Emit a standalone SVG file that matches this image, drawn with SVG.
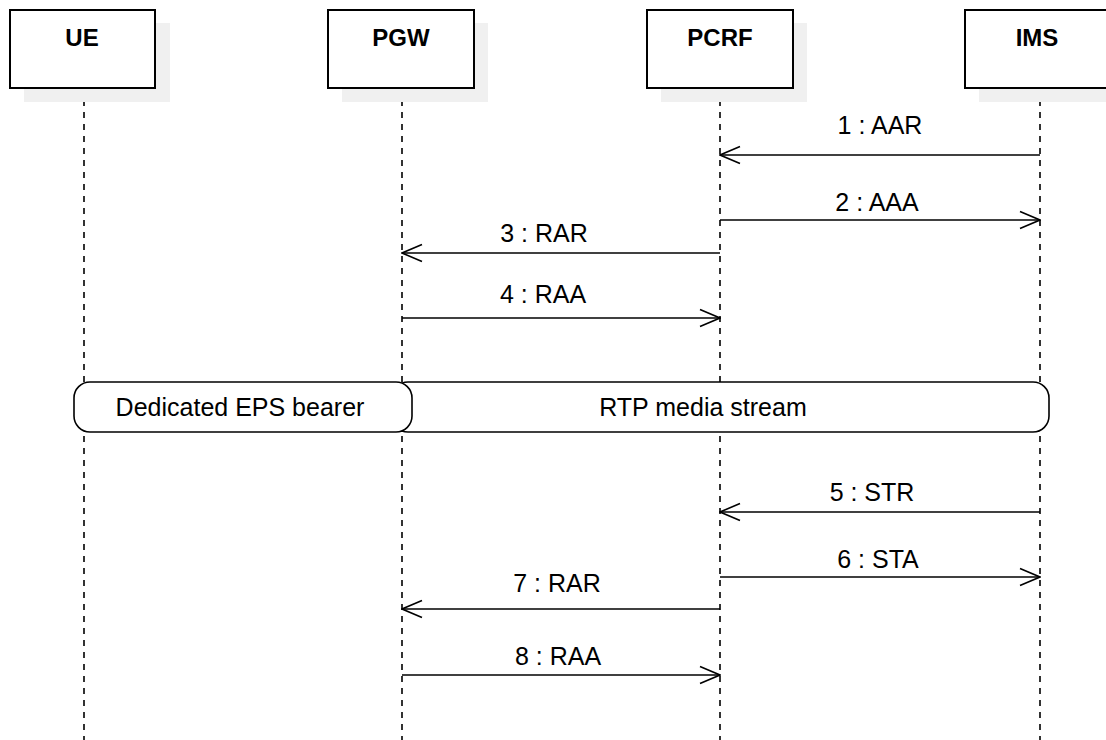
<svg xmlns="http://www.w3.org/2000/svg" width="1106" height="740" viewBox="0 0 1106 740">
  <defs>
    <marker id="open-arrow" viewBox="0 0 22 20" refX="21" refY="10" markerWidth="22" markerHeight="20" markerUnits="userSpaceOnUse" orient="auto">
      <path d="M1 1.5 L21 10 L1 18.5" fill="none" stroke="#000" stroke-width="1.6"/>
    </marker>
  </defs>
  <style>
    .shadow { fill: #f0f0f0; }
    .actor { fill: #fff; stroke: #000; stroke-width: 2; }
    .actor-label { font-family: "Liberation Sans", Arial, sans-serif; font-weight: bold; font-size: 24px; text-anchor: middle; fill: #000; }
    .lifeline { stroke: #000; stroke-width: 1.6; stroke-dasharray: 6 6; fill: none; }
    .msg { stroke: #000; stroke-width: 1.6; fill: none; marker-end: url(#open-arrow); }
    .msg-label { font-family: "Liberation Sans", Arial, sans-serif; font-size: 25px; text-anchor: middle; fill: #000; }
    .span { fill: #fff; stroke: #000; stroke-width: 1.6; }
  </style>
  <rect width="1106" height="740" fill="#fff"/>

  <!-- lifelines -->
  <g id="lifelines">
    <line class="lifeline" x1="84" y1="88" x2="84" y2="740"/>
    <line class="lifeline" x1="402" y1="88" x2="402" y2="740"/>
    <line class="lifeline" x1="720" y1="88" x2="720" y2="740"/>
    <line class="lifeline" x1="1040" y1="88" x2="1040" y2="740"/>
  </g>

  <!-- participants -->
  <g id="ue">
    <rect class="shadow" x="24" y="23" width="146" height="79"/>
    <rect class="actor" x="10" y="10" width="145" height="78"/>
    <text class="actor-label" x="82" y="46">UE</text>
  </g>
  <g id="pgw">
    <rect class="shadow" x="342" y="23" width="146" height="79"/>
    <rect class="actor" x="328" y="10" width="146" height="78"/>
    <text class="actor-label" x="401" y="46">PGW</text>
  </g>
  <g id="pcrf">
    <rect class="shadow" x="661" y="23" width="146" height="79"/>
    <rect class="actor" x="647" y="10" width="146" height="78"/>
    <text class="actor-label" x="720" y="46">PCRF</text>
  </g>
  <g id="ims">
    <rect class="shadow" x="979" y="23" width="146" height="79"/>
    <rect class="actor" x="965" y="10" width="146" height="78"/>
    <text class="actor-label" x="1037" y="46">IMS</text>
  </g>

  <!-- bearer / media spans -->
  <g id="rtp-stream">
    <rect class="span" x="392" y="382" width="657" height="50" rx="16" ry="16"/>
    <text class="msg-label" x="703" y="416">RTP media stream</text>
  </g>
  <g id="eps-bearer">
    <rect class="span" x="74" y="382" width="338" height="50" rx="16" ry="16"/>
    <text class="msg-label" x="240" y="416">Dedicated EPS bearer</text>
  </g>

  <!-- messages -->
  <g id="messages">
    <line class="msg" x1="1040" y1="155" x2="720" y2="155"/>
    <text class="msg-label" x="880" y="134">1 : AAR</text>

    <line class="msg" x1="720" y1="220" x2="1040" y2="220"/>
    <text class="msg-label" x="877" y="211">2 : AAA</text>

    <line class="msg" x1="720" y1="253" x2="402" y2="253"/>
    <text class="msg-label" x="544" y="242">3 : RAR</text>

    <line class="msg" x1="402" y1="318" x2="720" y2="318"/>
    <text class="msg-label" x="543" y="303">4 : RAA</text>

    <line class="msg" x1="1040" y1="512" x2="720" y2="512"/>
    <text class="msg-label" x="872" y="501">5 : STR</text>

    <line class="msg" x1="720" y1="577" x2="1040" y2="577"/>
    <text class="msg-label" x="878" y="568">6 : STA</text>

    <line class="msg" x1="720" y1="609" x2="402" y2="609"/>
    <text class="msg-label" x="557" y="592">7 : RAR</text>

    <line class="msg" x1="402" y1="675" x2="720" y2="675"/>
    <text class="msg-label" x="558" y="665">8 : RAA</text>
  </g>
</svg>
